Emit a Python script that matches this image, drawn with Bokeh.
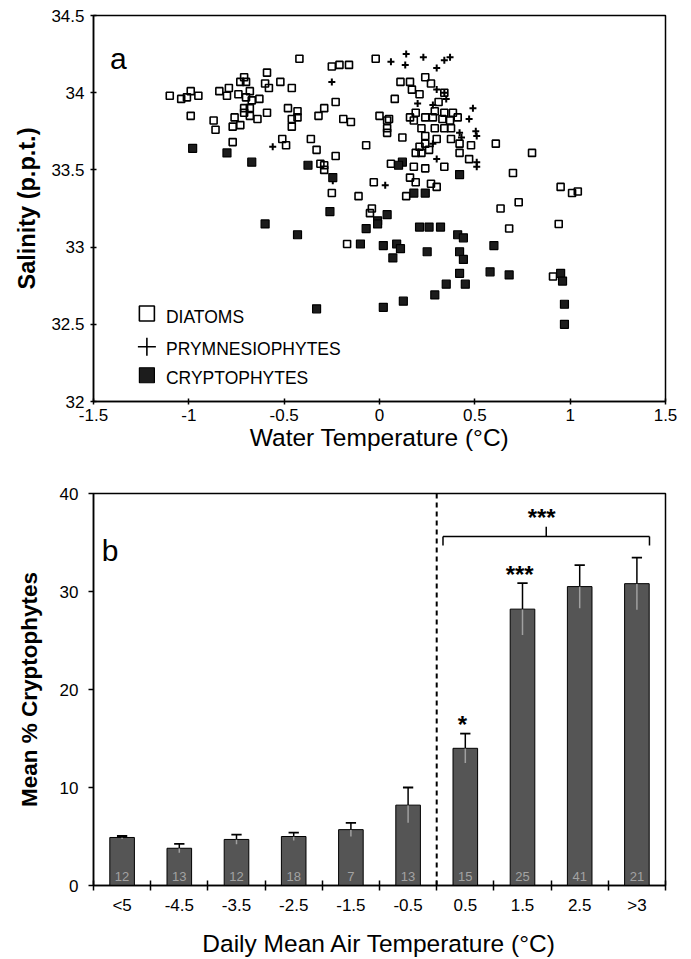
from bokeh.plotting import figure
from bokeh.layouts import column
from bokeh.models import Range1d, FixedTicker, CustomJSTickFormatter, Span, ColumnDataSource
from bokeh.embed import file_html
from bokeh.resources import INLINE
from bokeh.core.properties import value

FONT = "Liberation Sans"

# ---------------- Panel a: salinity vs water temperature ----------------
diatom_x = [-1.10, -1.04, -0.99, -1.01, -0.95, -0.99, -0.87, -0.86, -0.84, -0.80, -0.79, -0.77,
            -0.77, -0.73, -0.76, -0.74, -0.73, -0.71, -0.70, -0.68, -0.70, -0.67, -0.63, -0.71,
            -0.68, -0.71, -0.68, -0.64, -0.59, -0.59, -0.60, -0.58, -0.52, -0.46, -0.48, -0.43,
            -0.43, -0.46, -0.46, -0.51, -0.49, -0.42, -0.36, -0.33, -0.31, -0.29, -0.29, -0.23,
            -0.25, -0.21, -0.16, -0.23, -0.29, -0.32, -0.19, -0.15, -0.07, -0.02, 0.00, 0.04,
            0.04, 0.04, -0.03, -0.25, -0.11, 0.06, -0.04, -0.05, -0.17, 0.11, 0.16, 0.17,
            0.24, 0.27, 0.21, 0.08, 0.34, 0.31, 0.05, 0.12, 0.16, 0.18, 0.19, 0.24,
            0.28, 0.29, 0.34, 0.33, 0.385, 0.41, 0.37, 0.22, 0.29, 0.34, 0.375, 0.24,
            0.30, 0.375, 0.24, 0.21, 0.19, 0.22, 0.26, 0.42, 0.42, 0.48, 0.47, 0.18,
            0.24, 0.34, 0.16, 0.19, 0.27, 0.30, 0.14, 0.61, 0.80, 0.70, 0.95, 1.01,
            1.04, 0.73, 0.635, 0.68, 0.94, 0.91]
diatom_y = [33.98, 33.96, 34.01, 33.97, 33.98, 33.85, 33.82, 33.76, 34.01, 33.98, 34.03, 33.68,
            33.78, 33.79, 33.84, 33.99, 34.07, 34.10, 34.07, 34.01, 33.97, 33.95, 33.96, 33.90,
            33.90, 33.87, 33.85, 33.83, 33.87, 34.13, 34.06, 34.03, 34.07, 34.03, 33.90, 33.88,
            33.84, 33.83, 33.78, 33.70, 33.66, 34.22, 33.70, 33.63, 33.54, 33.53, 33.50, 33.59,
            34.17, 34.18, 34.18, 33.94, 33.90, 33.85, 33.83, 33.81, 33.66, 34.22, 33.85, 33.82,
            33.77, 33.74, 33.42, 33.35, 33.33, 33.54, 33.25, 33.22, 33.02, 34.07, 34.07, 34.02,
            34.10, 34.06, 33.99, 33.96, 34.00, 33.94, 33.83, 33.71, 33.84, 33.82, 33.87, 33.84,
            33.84, 33.88, 33.87, 33.83, 33.87, 33.84, 33.82, 33.77, 33.77, 33.77, 33.77, 33.72,
            33.70, 33.70, 33.67, 33.65, 33.61, 33.61, 33.63, 33.67, 33.61, 33.66, 33.57, 33.52,
            33.51, 33.52, 33.45, 33.42, 33.41, 33.39, 33.33, 33.67, 33.61, 33.48, 33.39, 33.35,
            33.36, 33.29, 33.25, 33.12, 33.15, 32.81]

prym_x = [-0.56, -0.25, 0.06, 0.03, -0.245, 0.14, 0.135, 0.23, 0.30, 0.34, 0.37, 0.30, 0.34,
          0.35, 0.20, 0.28, 0.49, 0.47, 0.505, 0.51, 0.42, 0.43, 0.30, 0.51, 0.51, 0.28]
prym_y = [33.65, 34.07, 34.20, 33.40, 33.43, 34.25, 34.18, 34.23, 34.16, 34.21, 34.23, 34.02, 34.00,
          33.96, 33.93, 33.92, 33.90, 33.83, 33.75, 33.72, 33.74, 33.71, 33.57, 33.55, 33.52, 33.67]

crypto_x = [-0.98, -0.80, -0.67, -0.375, -0.245, -0.26, 0.12, 0.10, 0.42, 0.18, 0.24, -0.60,
            -0.43, -0.07, -0.01, -0.01, 0.04, -0.10, 0.02, 0.07, -0.33, 0.02, 0.09, 0.11,
            0.21, 0.26, 0.32, 0.41, 0.44, 0.25, 0.42, 0.44, 0.42, 0.35, 0.45, 0.29,
            0.125, 0.60, 0.58, 0.68, 0.95, 0.96, 0.97, 0.97]
crypto_y = [33.64, 33.61, 33.55, 33.53, 33.45, 33.23, 33.55, 33.53, 33.47, 33.35, 33.35, 33.15,
            33.08, 33.12, 33.17, 33.15, 33.21, 33.02, 33.01, 32.93, 32.60, 32.61, 33.02, 32.99,
            33.13, 33.13, 33.13, 33.08, 33.06, 32.97, 32.97, 32.92, 32.83, 32.76, 32.76, 32.69,
            32.65, 33.01, 32.84, 32.82, 32.83, 32.78, 32.63, 32.50]

water_ticks = [-1.5, -1.0, -0.5, 0.0, 0.5, 1.0, 1.5]
salinity_ticks = [32.0, 32.5, 33.0, 33.5, 34.0, 34.5]
legend_labels = ["DIATOMS", "PRYMNESIOPHYTES", "CRYPTOPHYTES"]

# ---------------- Panel b: mean % cryptophytes vs air temperature ----------------
air_labels = ["<5", "-4.5", "-3.5", "-2.5", "-1.5", "-0.5", "0.5", "1.5", "2.5", ">3"]
mean_crypto = [4.9, 3.8, 4.7, 5.0, 5.7, 8.2, 14.0, 28.2, 30.5, 30.8]
se_crypto = [0.15, 0.45, 0.5, 0.4, 0.7, 1.8, 1.5, 2.65, 2.2, 2.65]
n_samples = [12, 13, 12, 18, 7, 13, 15, 25, 41, 21]
significance = ["", "", "", "", "", "", "*", "***", "", ""]
pct_ticks = [0, 10, 20, 30, 40]
group_split = "0.5"          # dashed line placed before this category
group_star = "***"
bracket_from, bracket_to = "0.5", ">3"

tick_fmt = CustomJSTickFormatter(code="return tick.toString();")


def style_axes(p):
    for ax in (p.xaxis[0], p.yaxis[0]):
        ax.axis_line_color = "black"
        ax.axis_line_width = 1.5
        ax.major_tick_line_color = "black"
        ax.major_tick_line_width = 1.5
        ax.minor_tick_line_color = None
        ax.major_label_text_font = FONT
        ax.major_label_text_font_size = "17px"
        ax.major_label_text_color = "black"
        ax.axis_label_text_font = FONT
        ax.axis_label_text_color = "black"
        ax.axis_label_text_font_style = "normal"
    p.xgrid.visible = False
    p.ygrid.visible = False
    p.outline_line_color = "black"
    p.outline_line_width = 1.5
    p.background_fill_color = "white"
    p.border_fill_color = "white"


# ---------- figure a ----------
p1 = figure(width=691, height=463, x_range=Range1d(-1.5, 1.5), y_range=Range1d(32, 34.5),
            output_backend="svg", toolbar_location=None,
            min_border_left=89, min_border_right=26, min_border_top=15, min_border_bottom=62)
style_axes(p1)
p1.xaxis.ticker = FixedTicker(ticks=water_ticks)
p1.yaxis.ticker = FixedTicker(ticks=salinity_ticks)
p1.xaxis.formatter = tick_fmt
p1.yaxis.formatter = tick_fmt
p1.xaxis.major_tick_in = 3
p1.xaxis.major_tick_out = 3
p1.yaxis.major_tick_in = 3
p1.yaxis.major_tick_out = 3
p1.xaxis.major_label_standoff = 4
p1.yaxis.major_label_standoff = 6
p1.xaxis.axis_label = "Water Temperature (°C)"
p1.xaxis.axis_label_text_font_size = "24.5px"
p1.xaxis.axis_label_standoff = 0
p1.yaxis.axis_label = "Salinity (p.p.t.)"
p1.yaxis.axis_label_text_font_size = "23.5px"
p1.yaxis.axis_label_text_font_style = "bold"
p1.yaxis.axis_label_standoff = 8

p1.scatter(diatom_x, diatom_y, marker="square", size=7, fill_color=None,
           line_color="black", line_width=1.6)
p1.scatter(prym_x, prym_y, marker="cross", size=7, line_color="black", line_width=2)
p1.scatter(crypto_x, crypto_y, marker="square", size=8, fill_color="#1c1c1c",
           line_color="black", line_width=1.2)

# legend (annotation, drawn by hand to match the original style)
leg_x = -1.22
leg_text_x = -1.12
leg_y = [32.57, 32.355, 32.17]
leg_ty = [32.545, 32.343, 32.155]
p1.scatter([leg_x], [leg_y[0]], marker="square", size=15, fill_color="white",
           line_color="black", line_width=1.6)
p1.scatter([leg_x], [leg_y[1]], marker="cross", size=18, line_color="black", line_width=1.6)
p1.scatter([leg_x], [leg_y[2]], marker="square", size=15, fill_color="#1c1c1c",
           line_color="black", line_width=1.2)
p1.text(x=[leg_text_x] * 3, y=leg_ty, text=legend_labels, text_font=value(FONT),
        text_font_size="17.5px", text_baseline="middle", text_align="left", text_color="black")
p1.text(x=[-1.37], y=[34.22], text=["a"], text_font=value(FONT), text_font_size="30px",
        text_baseline="middle", text_align="center", text_color="black")

# ---------- figure b ----------
nb = len(air_labels)
xc = [i + 0.5 for i in range(nb)]
upper = [m + s for m, s in zip(mean_crypto, se_crypto)]
lower = [m - s for m, s in zip(mean_crypto, se_crypto)]
src = ColumnDataSource(dict(x=xc, top=mean_crypto, upper=upper, lower=lower,
                            n=[str(v) for v in n_samples],
                            cap0=[v - 0.09 for v in xc], cap1=[v + 0.09 for v in xc]))

p2 = figure(width=691, height=496, x_range=Range1d(0, nb), y_range=Range1d(0, 40),
            output_backend="svg", toolbar_location=None,
            min_border_left=93, min_border_right=19, min_border_top=30, min_border_bottom=74)
style_axes(p2)
p2.yaxis.ticker = FixedTicker(ticks=pct_ticks)
p2.yaxis.formatter = tick_fmt
p2.yaxis.major_tick_in = 0
p2.yaxis.major_tick_out = 5
p2.yaxis.major_label_standoff = 10
p2.xaxis.ticker = FixedTicker(ticks=xc, minor_ticks=list(range(nb + 1)))
p2.xaxis.formatter = CustomJSTickFormatter(args=dict(labels=air_labels),
                                           code="return labels[Math.floor(tick)];")
p2.xaxis.major_tick_line_color = None
p2.xaxis.minor_tick_line_color = "black"
p2.xaxis.minor_tick_line_width = 1.5
p2.xaxis.minor_tick_in = 5
p2.xaxis.minor_tick_out = 5
p2.xaxis.major_label_standoff = 4
p2.xaxis.axis_label = "Daily Mean Air Temperature (°C)"
p2.xaxis.axis_label_text_font_size = "24.5px"
p2.xaxis.axis_label_standoff = 12
p2.yaxis.axis_label = "Mean % Cryptophytes"
p2.yaxis.axis_label_text_font_size = "22.5px"
p2.yaxis.axis_label_text_font_style = "bold"
p2.yaxis.axis_label_standoff = 15

p2.vbar(x="x", top="top", width=0.43, bottom=0, source=src, fill_color="#555555",
        line_color="black", line_width=1)
p2.segment(x0="x", y0="lower", x1="x", y1="top", source=src, line_color="#a0a0a0", line_width=1.5)
p2.segment(x0="x", y0="top", x1="x", y1="upper", source=src, line_color="black", line_width=1.5)
p2.segment(x0="cap0", y0="upper", x1="cap1", y1="upper", source=src, line_color="black",
           line_width=1.8)
p2.text(x="x", y=0.9, text="n", source=src, text_font=value(FONT), text_font_size="13px",
        text_align="center", text_baseline="middle", text_color="#a3a3a3")

sx = [xc[i] - 0.05 for i in range(nb) if significance[i]]
sy = [upper[i] + 0.9 for i in range(nb) if significance[i]]
st = [significance[i] for i in range(nb) if significance[i]]
p2.text(x=sx, y=sy, text=st, text_font=value(FONT), text_font_size="24px",
        text_font_style="bold", text_align="center", text_baseline="alphabetic",
        text_color="black")

split = air_labels.index(group_split)
p2.add_layout(Span(location=split, dimension="height", line_color="black",
                   line_width=2, line_dash="5 4"))

b0 = xc[air_labels.index(bracket_from)] - 0.39
b1 = xc[air_labels.index(bracket_to)] + 0.22
bm = (b0 + b1) / 2
by, bdrop, btop = 35.6, 34.7, 36.6
p2.segment(x0=[b0, b0, b1, bm], y0=[by, by, by, by], x1=[b1, b0, b1, bm],
           y1=[by, bdrop, bdrop, btop], line_color="black", line_width=1.5)
p2.text(x=[bm - 0.08], y=[btop + 1.0], text=[group_star], text_font=value(FONT),
        text_font_size="24px", text_font_style="bold", text_align="center",
        text_baseline="alphabetic", text_color="black")
p2.text(x=[0.29], y=[34.2], text=["b"], text_font=value(FONT), text_font_size="30px",
        text_baseline="middle", text_align="center", text_color="black")

layout = column(p1, p2)
open("out.html", "w").write(file_html(layout, INLINE))
